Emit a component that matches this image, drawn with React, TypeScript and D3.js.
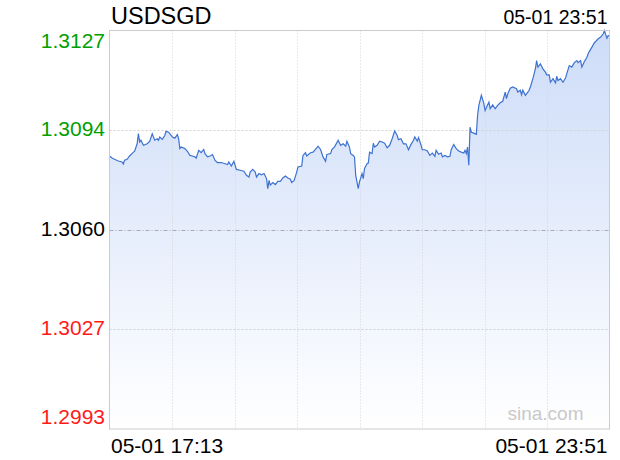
import React from "react";
import * as d3 from "d3";

// minutes after 05-01 17:13
const minutes = [
  0, 2, 4, 7, 10, 11, 12, 14, 16, 18, 20, 22, 23, 24, 25, 27, 30, 32, 34, 36,
  38, 39, 40, 42, 44, 45, 47, 48, 50, 52, 54, 55, 56, 57, 60, 62, 64, 66, 68, 69,
  71, 73, 75, 76, 78, 80, 82, 84, 86, 89, 92, 94, 95, 97, 99, 101, 104, 107, 109, 111,
  112, 114, 116, 117, 119, 121, 123, 125, 126, 127, 128, 130, 132, 134, 136, 138, 140, 142, 144, 145,
  147, 149, 150, 153, 154, 156, 157, 160, 162, 164, 166, 168, 170, 172, 173, 176, 177, 179, 181, 182,
  184, 186, 188, 189, 191, 192, 194, 195, 196, 198, 199, 201, 202, 203, 205, 206, 207, 209, 210, 211,
  213, 215, 217, 219, 221, 223, 225, 227, 229, 230, 232, 234, 236, 238, 240, 242, 243, 245, 246, 248,
  249, 251, 253, 255, 257, 259, 260, 262, 264, 265, 267, 269, 271, 272, 274, 276, 278, 280, 282, 283,
  284, 285, 286, 287, 288, 290, 292, 293, 294, 296, 298, 299, 301, 302, 303, 305, 307, 309, 311, 313,
  315, 316, 317, 319, 321, 324, 325, 327, 328, 329, 331, 333, 334, 335, 337, 339, 340, 341, 343, 345,
  347, 348, 350, 351, 353, 355, 356, 357, 359, 361, 363, 364, 366, 368, 370, 372, 373, 375, 376, 378,
  380, 381, 382, 384, 386, 387, 389, 391, 393, 394, 395, 396, 397, 398,
];

const prices = [
  1.3085, 1.30843, 1.30839, 1.30833, 1.3083, 1.30823, 1.30836, 1.30839, 1.3085, 1.30859,
  1.30866, 1.30891, 1.30925, 1.30897, 1.30903, 1.30886, 1.30891, 1.30899, 1.30925, 1.30903,
  1.30908, 1.30903, 1.30914, 1.30906, 1.30919, 1.30933, 1.3093, 1.30925, 1.30914, 1.3091,
  1.30922, 1.30908, 1.30875, 1.3088, 1.30875, 1.30866, 1.30852, 1.3085, 1.30847, 1.30843,
  1.30869, 1.30861, 1.30872, 1.30858, 1.30847, 1.3085, 1.30855, 1.30835, 1.30828, 1.30828,
  1.30824, 1.30821, 1.3083, 1.30816, 1.30832, 1.30805, 1.30802, 1.30799, 1.30785, 1.30779,
  1.30796, 1.30805, 1.30796, 1.30779, 1.30791, 1.30787, 1.30791, 1.30774, 1.3074, 1.30768,
  1.30752, 1.30761, 1.30754, 1.30765, 1.30765, 1.30776, 1.30783, 1.30776, 1.30772, 1.30761,
  1.30768, 1.30796, 1.30813, 1.30816, 1.30852, 1.30861, 1.3085, 1.30861, 1.30863, 1.30872,
  1.30883, 1.30872, 1.30847, 1.30832, 1.30855, 1.30858, 1.30872, 1.3088, 1.30895, 1.30903,
  1.30886, 1.30891, 1.30883, 1.30899, 1.3088, 1.30858, 1.30852, 1.30847, 1.30785, 1.3074,
  1.30763, 1.30791, 1.30774, 1.30808, 1.30824, 1.30826, 1.30863, 1.30858, 1.30893, 1.3088,
  1.30886, 1.309, 1.30897, 1.30893, 1.30878, 1.30886, 1.30908, 1.30934, 1.30919, 1.30905,
  1.30908, 1.30891, 1.30891, 1.30871, 1.30889, 1.30903, 1.30914, 1.309, 1.30912, 1.30886,
  1.30871, 1.30871, 1.30867, 1.30852, 1.3086, 1.30849, 1.30869, 1.30856, 1.3086, 1.30847,
  1.30852, 1.30847, 1.30849, 1.30871, 1.30889, 1.30875, 1.30867, 1.30863, 1.3086, 1.30869,
  1.30858, 1.3088, 1.30819, 1.30947, 1.3093, 1.30927, 1.30923, 1.30987, 1.3102, 1.31054,
  1.31026, 1.31003, 1.31022, 1.31031, 1.31009, 1.31022, 1.31009, 1.3102, 1.31029, 1.31034,
  1.31065, 1.31043, 1.31059, 1.31078, 1.31082, 1.31076, 1.31065, 1.31071, 1.31056, 1.31071,
  1.31054, 1.31065, 1.31071, 1.31082, 1.3111, 1.31143, 1.31171, 1.31149, 1.3116, 1.31143,
  1.31132, 1.31123, 1.31123, 1.31098, 1.3111, 1.31096, 1.31118, 1.31104, 1.3111, 1.31098,
  1.31112, 1.31127, 1.31154, 1.31149, 1.31164, 1.31171, 1.31164, 1.31171, 1.31149, 1.31168,
  1.31182, 1.31194, 1.31202, 1.31216, 1.31231, 1.31235, 1.31244, 1.3125, 1.31261, 1.31272,
  1.31258, 1.31246, 1.31255, 1.31255,
];

const yTickValues = [1.31272, 1.30937, 1.30602, 1.30267, 1.29932];
const yTickLabels = ["1.3127", "1.3094", "1.3060", "1.3027", "1.2993"];
const yTickColors = ["#00a000", "#00a000", "#000000", "#ff1a1a", "#ff1a1a"];
const xTickLabels = ["05-01 17:13", "05-01 23:51"];
const title = "USDSGD";
const lastTime = "05-01 23:51";
const watermark = "sina.com";

const W = 620;
const H = 460;
const left = 109.5;
const right = 609.5;
const top = 30.5;
const bottom = 429;
const font = "'Liberation Sans', Arial, Helvetica, sans-serif";

export default function App() {
  const x = d3.scaleLinear().domain([0, 398]).range([left, right]);
  const y = d3.scaleLinear().domain([1.29932, 1.31272]).range([bottom, top]);
  const gx = d3.scaleLinear().domain([0, 8]).range([left, right]);
  const data = minutes.map((m, i) => [m, prices[i]] as [number, number]);

  const line = d3
    .line<[number, number]>()
    .x((d) => x(d[0]))
    .y((d) => y(d[1]));
  const area = d3
    .area<[number, number]>()
    .x((d) => x(d[0]))
    .y0(bottom)
    .y1((d) => y(d[1]));

  const labelY = (i: number) => {
    const v = y(yTickValues[i]);
    if (i === 0) return v + 17;
    if (i === yTickValues.length - 1) return v - 5.5;
    return v + 6;
  };

  return (
    <svg
      width={W}
      height={H}
      style={{ position: "absolute", left: 0, top: 0, background: "#fff" }}
      fontFamily={font}
    >
      <defs>
        <linearGradient id="fillg" gradientUnits="userSpaceOnUse" x1={0} y1={top} x2={0} y2={bottom}>
          <stop offset="0%" stopColor="#cddcf8" />
          <stop offset="100%" stopColor="#ffffff" />
        </linearGradient>
      </defs>
      <path d={area(data) || ""} fill="url(#fillg)" />
      {d3.range(1, 8).map((k) => (
        <line
          key={"vg" + k}
          x1={Math.round(gx(k)) + 0.5}
          x2={Math.round(gx(k)) + 0.5}
          y1={top}
          y2={bottom}
          stroke="#d4d4d4"
          strokeDasharray="1,2"
        />
      ))}
      {[1, 3].map((i) => (
        <line
          key={"hg" + i}
          x1={left}
          x2={right}
          y1={Math.round(y(yTickValues[i])) + 0.5}
          y2={Math.round(y(yTickValues[i])) + 0.5}
          stroke="#d0d0d0"
          strokeDasharray="2,2"
        />
      ))}
      <line
        x1={left}
        x2={right}
        y1={Math.round(y(yTickValues[2])) + 0.5}
        y2={Math.round(y(yTickValues[2])) + 0.5}
        stroke="#a8a8b8"
        strokeDasharray="4,2,1,2"
      />
      <path d={line(data) || ""} fill="none" stroke="#3d72d2" strokeWidth={1.2} />
      <rect x={left} y={top} width={right - left} height={bottom - top} fill="none" stroke="#cccccc" />
      {yTickLabels.map((t, i) => (
        <text key={t} x={105} y={labelY(i)} textAnchor="end" fontSize={21} fill={yTickColors[i]}>
          {t}
        </text>
      ))}
      <text x={111} y={24} fontSize={23.5} fill="#000">
        {title}
      </text>
      <text x={607.5} y={24} fontSize={19.5} textAnchor="end" fill="#000">
        {lastTime}
      </text>
      <text x={111} y={453} fontSize={21} fill="#000">
        {xTickLabels[0]}
      </text>
      <text x={607.5} y={453} fontSize={21} textAnchor="end" fill="#000">
        {xTickLabels[1]}
      </text>
      <text x={583.5} y={420} fontSize={19} textAnchor="end" fill="#c9c9c9">
        {watermark}
      </text>
    </svg>
  );
}
